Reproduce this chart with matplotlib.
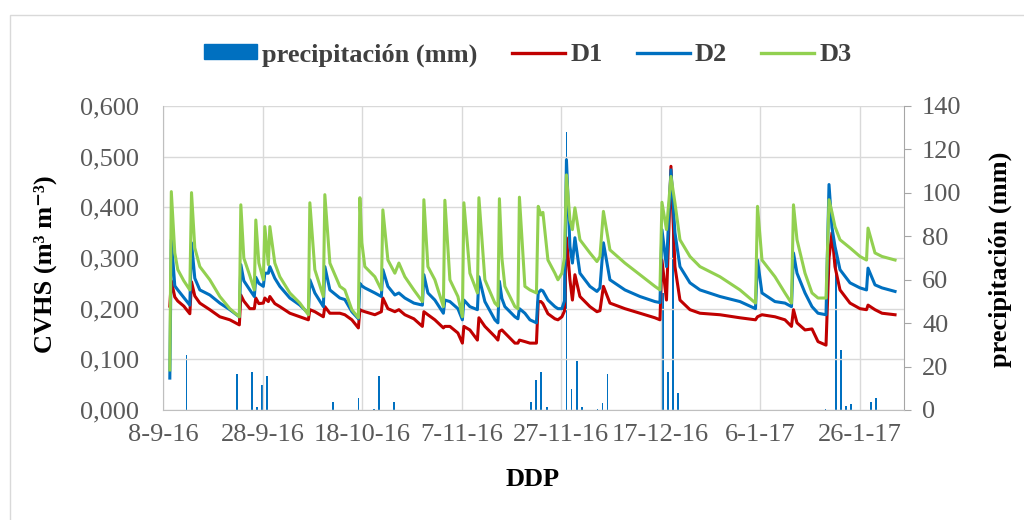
import matplotlib
matplotlib.use("Agg")
import matplotlib.pyplot as plt
import matplotlib.dates as mdates
from matplotlib.patches import Patch, Rectangle
from matplotlib.lines import Line2D
from matplotlib.ticker import FuncFormatter
import numpy as np
import pandas as pd

plt.rcParams["font.family"] = ["Liberation Serif", "DejaVu Serif"]

inicio = pd.Timestamp("2016-09-08")

# dias desde el 8-9-16 y humedad (CVHS) en cada profundidad
dias = [1.37, 1.67, 2.37, 2.97, 4.18, 5.39, 5.73, 6.39, 7.40, 9.41, 11.42, 13.43,
        15.34, 15.64, 16.24, 17.45, 18.35, 18.65, 19.26, 20.16, 20.46, 21.17, 21.47,
        22.47, 23.48, 25.49, 27.50, 29.21, 29.51, 30.51, 32.22, 32.52, 33.53, 35.54,
        36.54, 37.95, 39.26, 39.56, 39.96, 40.56, 42.57, 43.88, 44.18, 45.19, 46.59,
        47.40, 48.60, 50.41, 52.12, 52.42, 53.23, 54.63, 56.34, 56.64, 57.65, 59.26,
        60.16, 60.46, 61.67, 63.18, 63.48, 64.68, 66.69, 67.30, 67.60, 68.10, 68.70,
        70.71, 71.32, 71.62, 72.72, 73.73, 75.04, 75.40, 75.94, 76.34, 77.35, 78.75,
        79.36, 80.16, 80.66, 81.07, 81.77, 82.27, 82.77, 83.78, 85.79, 87.20, 87.80,
        88.50, 89.81, 92.82, 95.84, 98.85, 99.86, 100.26, 101.17, 102.07, 102.87,
        103.88, 105.89, 107.90, 111.92, 115.94, 119.06, 119.46, 120.36, 122.97,
        124.98, 126.29, 126.69, 127.40, 129.01, 130.41, 131.62, 133.23, 133.83,
        134.43, 135.03, 136.04, 138.05, 140.06, 141.37, 141.67, 143.07, 144.48, 147.10]

d3 = [0.079, 0.431, 0.310, 0.277, 0.255, 0.237, 0.429, 0.320, 0.283, 0.257, 0.224, 0.200,
      0.184, 0.405, 0.300, 0.265, 0.237, 0.375, 0.290, 0.257, 0.362, 0.287, 0.362,
      0.290, 0.263, 0.231, 0.211, 0.188, 0.409, 0.277, 0.224, 0.425, 0.290, 0.244,
      0.237, 0.198, 0.182, 0.419, 0.330, 0.283, 0.263, 0.237, 0.395, 0.296, 0.270,
      0.290, 0.263, 0.237, 0.214, 0.415, 0.283, 0.257, 0.204, 0.414, 0.257, 0.224,
      0.184, 0.409, 0.270, 0.231, 0.419, 0.257, 0.211, 0.205, 0.417, 0.300, 0.244,
      0.204, 0.200, 0.420, 0.244, 0.237, 0.231, 0.402, 0.385, 0.390, 0.296, 0.270,
      0.257, 0.270, 0.300, 0.464, 0.375, 0.356, 0.399, 0.336, 0.310, 0.293, 0.303,
      0.392, 0.316, 0.290, 0.267, 0.244, 0.237, 0.410, 0.356, 0.461, 0.409,
      0.336, 0.303, 0.283, 0.263, 0.237, 0.211, 0.402, 0.296, 0.263,
      0.231, 0.211, 0.405, 0.336, 0.270, 0.231, 0.221, 0.221, 0.415,
      0.390, 0.362, 0.336, 0.320, 0.303, 0.296, 0.359, 0.310, 0.303, 0.296]

d2 = [0.063, 0.336, 0.245, 0.237, 0.222, 0.207, 0.330, 0.260, 0.237, 0.227, 0.211, 0.198,
      0.184, 0.287, 0.255, 0.237, 0.224, 0.262, 0.250, 0.244, 0.270, 0.270, 0.283,
      0.260, 0.244, 0.221, 0.207, 0.191, 0.257, 0.231, 0.204, 0.283, 0.237, 0.221,
      0.218, 0.194, 0.180, 0.250, 0.245, 0.241, 0.231, 0.224, 0.277, 0.244, 0.227,
      0.231, 0.221, 0.211, 0.207, 0.267, 0.231, 0.217, 0.191, 0.217, 0.214, 0.200,
      0.178, 0.217, 0.204, 0.198, 0.263, 0.214, 0.178, 0.172, 0.254, 0.220, 0.204,
      0.184, 0.180, 0.200, 0.191, 0.178, 0.172, 0.231, 0.237, 0.235, 0.217, 0.204,
      0.200, 0.200, 0.215, 0.494, 0.323, 0.290, 0.340, 0.270, 0.244, 0.234, 0.241,
      0.330, 0.257, 0.237, 0.224, 0.214, 0.212, 0.356, 0.283, 0.474, 0.350,
      0.283, 0.251, 0.237, 0.224, 0.214, 0.200, 0.296, 0.231, 0.214,
      0.211, 0.204, 0.310, 0.270, 0.231, 0.204, 0.191, 0.188, 0.445,
      0.360, 0.323, 0.277, 0.251, 0.241, 0.237, 0.280, 0.247, 0.241, 0.234]

d1 = [0.205, 0.255, 0.223, 0.215, 0.205, 0.190, 0.253, 0.225, 0.211, 0.198, 0.184, 0.178,
      0.168, 0.227, 0.215, 0.200, 0.200, 0.221, 0.210, 0.211, 0.221, 0.214, 0.224,
      0.210, 0.204, 0.191, 0.184, 0.178, 0.198, 0.194, 0.184, 0.204, 0.191, 0.191,
      0.188, 0.178, 0.162, 0.198, 0.196, 0.194, 0.188, 0.194, 0.221, 0.200, 0.194,
      0.198, 0.188, 0.180, 0.165, 0.194, 0.188, 0.178, 0.162, 0.165, 0.165, 0.152,
      0.132, 0.165, 0.158, 0.138, 0.182, 0.165, 0.145, 0.138, 0.155, 0.158, 0.152,
      0.132, 0.132, 0.138, 0.135, 0.132, 0.132, 0.214, 0.214, 0.210, 0.190, 0.180,
      0.178, 0.184, 0.195, 0.340, 0.257, 0.217, 0.267, 0.224, 0.204, 0.194, 0.196,
      0.244, 0.211, 0.200, 0.191, 0.182, 0.178, 0.296, 0.217, 0.481, 0.283,
      0.217, 0.198, 0.191, 0.188, 0.182, 0.178, 0.184, 0.188, 0.184,
      0.178, 0.165, 0.198, 0.172, 0.158, 0.160, 0.135, 0.128, 0.300,
      0.350, 0.283, 0.237, 0.211, 0.200, 0.198, 0.207, 0.198, 0.191, 0.188]

# precipitacion diaria (mm)
lluvia_dias = [4.7, 14.8, 17.9, 18.9, 19.9, 20.9, 34.1, 39.3, 42.4, 43.4, 46.4,
               73.9, 74.9, 76.0, 77.1, 80.1, 81.1, 82.1, 83.2, 84.2, 87.3, 88.3, 89.3,
               100.5, 101.5, 102.5, 103.5, 133.1, 135.2, 136.2, 137.2, 138.2, 142.2, 143.3]
lluvia_mm = [25.3, 16.4, 17.6, 1.5, 11.5, 15.7, 3.5, 5.4, 0.3, 15.7, 3.8,
             3.5, 13.6, 17.4, 1.5, 1.5, 128.0, 9.5, 22.5, 1.5, 0.4, 3.0, 16.5,
             54.0, 17.6, 100.0, 7.7, 0.5, 70.0, 27.6, 1.8, 2.6, 3.5, 5.4]

fechas = inicio + pd.to_timedelta(dias, unit="D")
fechas_lluvia = inicio + pd.to_timedelta(lluvia_dias, unit="D")

gris = "#595959"
fs = 19

fig = plt.figure(figsize=(10.24, 5.2), dpi=100)
ax = fig.add_axes([163 / 1024, 110 / 520, 741 / 1024, 304 / 520])
ax2 = ax.twinx()

ax2.bar(fechas_lluvia, lluvia_mm, width=0.35, color="#0070C0")
ax.plot(fechas, d1, color="#C00000", lw=2.2)
ax.plot(fechas, d2, color="#0070C0", lw=2.2)
ax.plot(fechas, d3, color="#92D050", lw=2.2)

ax.set_zorder(ax2.get_zorder() + 1)
ax.patch.set_visible(False)

ax.set_xlim(inicio, inicio + pd.Timedelta(days=148.9))
ax.set_ylim(0, 0.6)
ax2.set_ylim(0, 140)
ax.set_yticks(np.arange(0, 0.61, 0.1))
ax2.set_yticks(range(0, 141, 20))
ax.set_xticks(pd.date_range(inicio, periods=8, freq="20D"))


def fmt_fecha(v, pos):
    d = mdates.num2date(v)
    return f"{d.day}-{d.month}-{d.year % 100}"


ax.xaxis.set_major_formatter(FuncFormatter(fmt_fecha))
ax.yaxis.set_major_formatter(FuncFormatter(lambda v, p: f"{v:.3f}".replace(".", ",")))

ax.grid(True, color="#D9D9D9", lw=1)
ax.set_axisbelow(True)
ax.tick_params(axis="y", length=0, pad=17, labelsize=fs, labelcolor=gris)
ax.tick_params(axis="x", length=0, pad=10, labelsize=fs, labelcolor=gris)
ax2.tick_params(axis="y", length=5, color="#A6A6A6", pad=8, labelsize=fs, labelcolor=gris)

for s in ["top", "right"]:
    ax.spines[s].set_visible(False)
ax.spines["left"].set_color("#BFBFBF")
ax.spines["bottom"].set_color("#BFBFBF")
for s in ["top", "left", "bottom"]:
    ax2.spines[s].set_visible(False)
ax2.spines["right"].set_color("#A6A6A6")

fig.text(533 / 1024, 1 - 480 / 520, "DDP", ha="center", va="center",
         fontsize=fs, weight="bold")
fig.text(45 / 1024, 1 - 264 / 520, "CVHS (m³ m⁻³)", ha="center", va="center",
         rotation=90, fontsize=fs, weight="bold")
fig.text(1000 / 1024, 1 - 259 / 520, "precipitación (mm)", ha="center", va="center",
         rotation=90, fontsize=fs, weight="bold")

handles = [Patch(color="#0070C0"),
           Line2D([], [], color="#C00000", lw=2.4),
           Line2D([], [], color="#0070C0", lw=2.4),
           Line2D([], [], color="#92D050", lw=2.4)]
fig.legend(handles, ["precipitación (mm)", "D1", "D2", "D3"], loc="center",
           bbox_to_anchor=(528 / 1024, 1 - 55 / 520), ncol=4, frameon=False,
           prop={"weight": "bold", "size": fs}, labelcolor="#404040",
           handlelength=2, handleheight=0.5, handletextpad=0.2, columnspacing=1.3)

# marco exterior del grafico
fig.add_artist(Rectangle((10 / 1024, -0.05), 1.1, 1.05 - 15 / 520,
                         transform=fig.transFigure, fill=False, ec="#D9D9D9", lw=1))

fig.savefig("out.png", dpi=100)
